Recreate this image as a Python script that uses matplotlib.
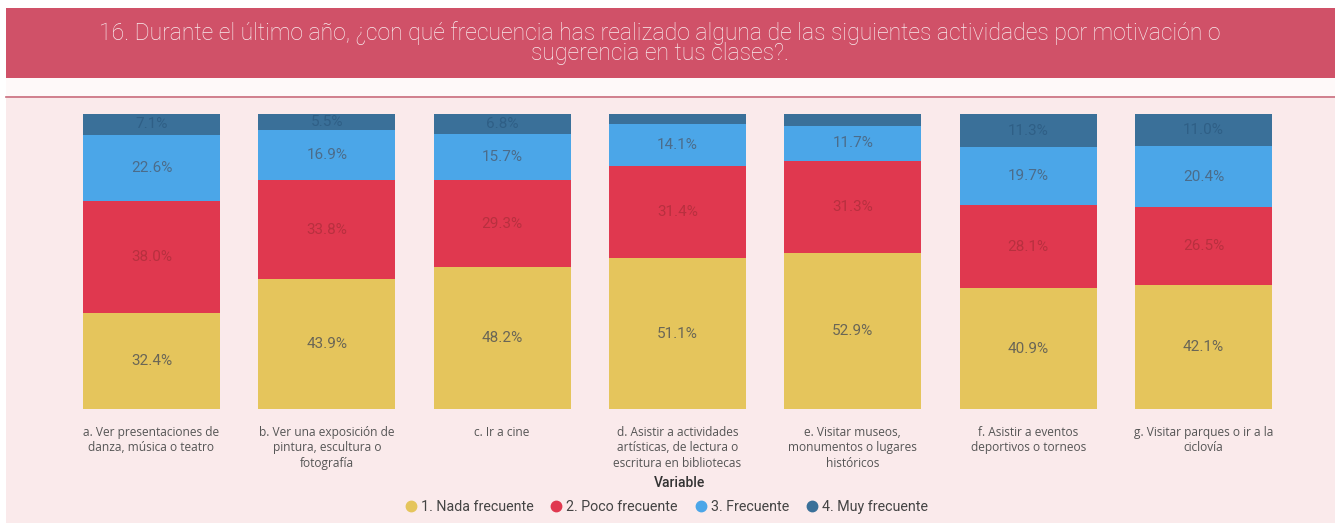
import matplotlib
matplotlib.use("Agg")
import matplotlib.pyplot as plt
from matplotlib.patches import Rectangle
from matplotlib.lines import Line2D

categories = [
    "a. Ver presentaciones de\ndanza, música o teatro",
    "b. Ver una exposición de\npintura, escultura o\nfotografía",
    "c. Ir a cine",
    "d. Asistir a actividades\nartísticas, de lectura o\nescritura en bibliotecas",
    "e. Visitar museos,\nmonumentos o lugares\nhistóricos",
    "f. Asistir a eventos\ndeportivos o torneos",
    "g. Visitar parques o ir a la\nciclovía",
]
series_names = ["1. Nada frecuente", "2. Poco frecuente", "3. Frecuente", "4. Muy frecuente"]
nada = [32.4, 43.9, 48.2, 51.1, 52.9, 40.9, 42.1]
poco = [38.0, 33.8, 29.3, 31.4, 31.3, 28.1, 26.5]
frecuente = [22.6, 16.9, 15.7, 14.1, 11.7, 19.7, 20.4]
muy = [7.1, 5.5, 6.8, 3.4, 4.1, 11.3, 11.0]

title = "16. Durante el último año, ¿con qué frecuencia has realizado alguna de las siguientes actividades por motivación o\nsugerencia en tus clases?."

colors = ["#E5C55C", "#E0384F", "#4BA6E8", "#3A7099"]
label_colors = ["#6A6656", "#B8303F", "#4B6C8A", "#2F5F86"]

W, H = 1335, 523
fig = plt.figure(figsize=(W / 100, H / 100), dpi=100)
fig.patch.set_facecolor("white")

# background pieces
bg = fig.add_axes([0, 0, 1, 1], zorder=0)
bg.set_xlim(0, W)
bg.set_ylim(H, 0)
bg.axis("off")
bg.add_patch(Rectangle((6, 98), W - 6, H - 98, color="#FAEAEB", lw=0))
bg.add_patch(Rectangle((6, 8), W - 6, 70, color="#D05168", lw=0))
bg.add_patch(Rectangle((6, 78), W - 6, 19, color="#FEF9F9", lw=0))
bg.plot([6, W], [97, 97], color="#C86A7A", lw=1.2)
bg.text(660, 43, title, ha="center", va="center", color="#F8ECEE",
        fontsize=16.6, family="Roboto", fontweight="light", linespacing=0.82)

# bars
x0_px, step_px = 151.5, 175.33
left = (x0_px - 0.5 * step_px) / W
width = 7 * step_px / W
bottom = (H - 409) / H
height = 295 / H
ax = fig.add_axes([left, bottom, width, height], zorder=1)
ax.set_xlim(-0.5, 6.5)
ax.set_ylim(0, 100)
ax.axis("off")

xs = list(range(len(categories)))
bw = 137 / step_px
base = [0.0] * len(xs)
for vals, c, lc in zip([nada, poco, frecuente, muy], colors, label_colors):
    ax.bar(xs, vals, bottom=base, width=bw, color=c, edgecolor="none")
    for i, v in enumerate(vals):
        if v >= 5:
            ax.text(xs[i], base[i] + v / 2, f"{v:.1f}%", ha="center", va="center",
                    color=lc, fontsize=11, family="Roboto")
    base = [b + v for b, v in zip(base, vals)]

# category labels
for i, cat in enumerate(categories):
    ax.text(xs[i], -5.6, cat, ha="center", va="top", color="#555555",
            fontsize=8.6, family="Open Sans", linespacing=1.25)

# axis title and legend
bg.text(679, 483, "Variable", ha="center", va="center", color="#333333",
        fontsize=10, family="Roboto", fontweight="medium")
handles = [Line2D([0], [0], marker="o", linestyle="none", markersize=7.5,
                  markerfacecolor=c, markeredgecolor=c) for c in colors]
leg = fig.legend(handles, series_names, loc="center", bbox_to_anchor=(662 / W, 1 - 507 / H),
                 ncol=4, frameon=False, handletextpad=-0.3, columnspacing=0.6,
                 prop={"family": "Roboto", "size": 10.3})
for t in leg.get_texts():
    t.set_color("#444444")

fig.savefig("out.png", dpi=100, facecolor=fig.get_facecolor())
